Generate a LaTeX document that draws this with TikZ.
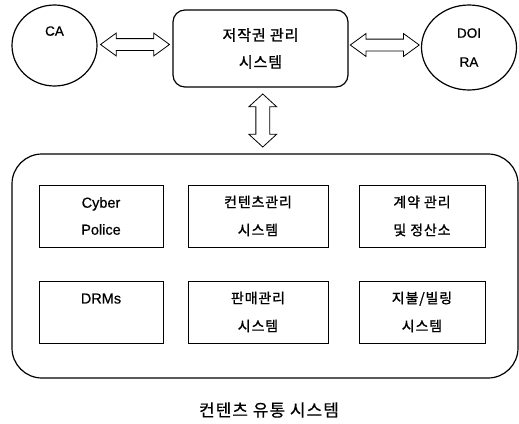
\documentclass[tikz,border=0pt]{standalone}
\usepackage{fontspec}
\setmainfont[FakeBold=0.6]{Liberation Sans}
\newfontfamily\kr[LetterSpace=6,FakeBold=1.2]{Noto Sans CJK KR}
\newfontfamily\krcap[LetterSpace=6,FakeBold=0.4]{Noto Sans CJK KR}
\usetikzlibrary{shapes.geometric,shapes.arrows,calc}

\tikzset{
  outline/.style={draw=black, line width=1.2pt},
  roundbox/.style={outline, rounded corners=12pt, minimum width=175pt, minimum height=77pt,
    align=center, font=\kr\fontsize{15}{27}\selectfont},
  party/.style={outline, ellipse, inner sep=0pt, align=center,
    font=\fontsize{13.5}{29}\selectfont},
  unit/.style={draw=black, line width=0.8pt, minimum height=62pt, inner sep=0pt,
    align=center, font=\kr\fontsize{14}{28}\selectfont},
  latinunit/.style={unit, font=\fontsize{14.5}{27}\selectfont},
  harrow/.style={double arrow, draw=black, line width=0.8pt, fill=white, inner sep=5.5pt,
    double arrow head extend=5.5pt, double arrow tip angle=72,
    minimum height=69pt},
  varrow/.style={double arrow, draw=black, line width=0.8pt, fill=white, inner sep=6.5pt,
    double arrow head extend=7pt, double arrow tip angle=95,
    minimum height=53pt, shape border rotate=90},
}

\begin{document}
\begin{tikzpicture}[x=1pt, y=-1pt]
  \useasboundingbox (0,0) rectangle (519,423);

  % copyright management system and its two partners
  \node[roundbox] (cms) at (260.5,48.5) {저작권 관리\\시스템};
  \node[party, minimum width=85pt, minimum height=81pt] (ca) at (54.5,45.5) {CA\\\phantom{X}};
  \node[party, minimum width=95pt, minimum height=85pt] (doi) at (469,47.5) {DOI\\RA};

  % content distribution system frame
  \node[outline, rounded corners=30pt, minimum width=506pt, minimum height=224pt]
    (dist) at (265,266) {};

  % component units
  \node[latinunit, minimum width=124pt] (police) at (101,216) {Cyber\\Police};
  \node[unit, minimum width=140pt] (contents) at (258,216) {컨텐츠관리\\시스템};
  \node[unit, minimum width=126pt] (contract) at (422,216) {계약 관리\\및 정산소};
  \node[latinunit, minimum width=124pt] (drm) at (101,312) {DRMs\\\phantom{X}};
  \node[unit, minimum width=140pt] (sales) at (258,312) {판매관리\\시스템};
  \node[unit, minimum width=126pt] (billing) at (422,312) {지불/빌링\\시스템};

  % hollow two-way arrows
  \path (ca.east) -- (cms.west) node[midway, harrow, yshift=2.5pt] (a1) {};
  \path (cms.east) -- (doi.west) node[midway, harrow, yshift=3pt] (a2) {};
  \path (cms.south) -- (dist.north) node[midway, varrow] (a3) {};

  % caption
  \node[font=\krcap\fontsize{17}{20}\selectfont] (caption) at (269,410) {컨텐츠 유통 시스템};
\end{tikzpicture}
\end{document}
